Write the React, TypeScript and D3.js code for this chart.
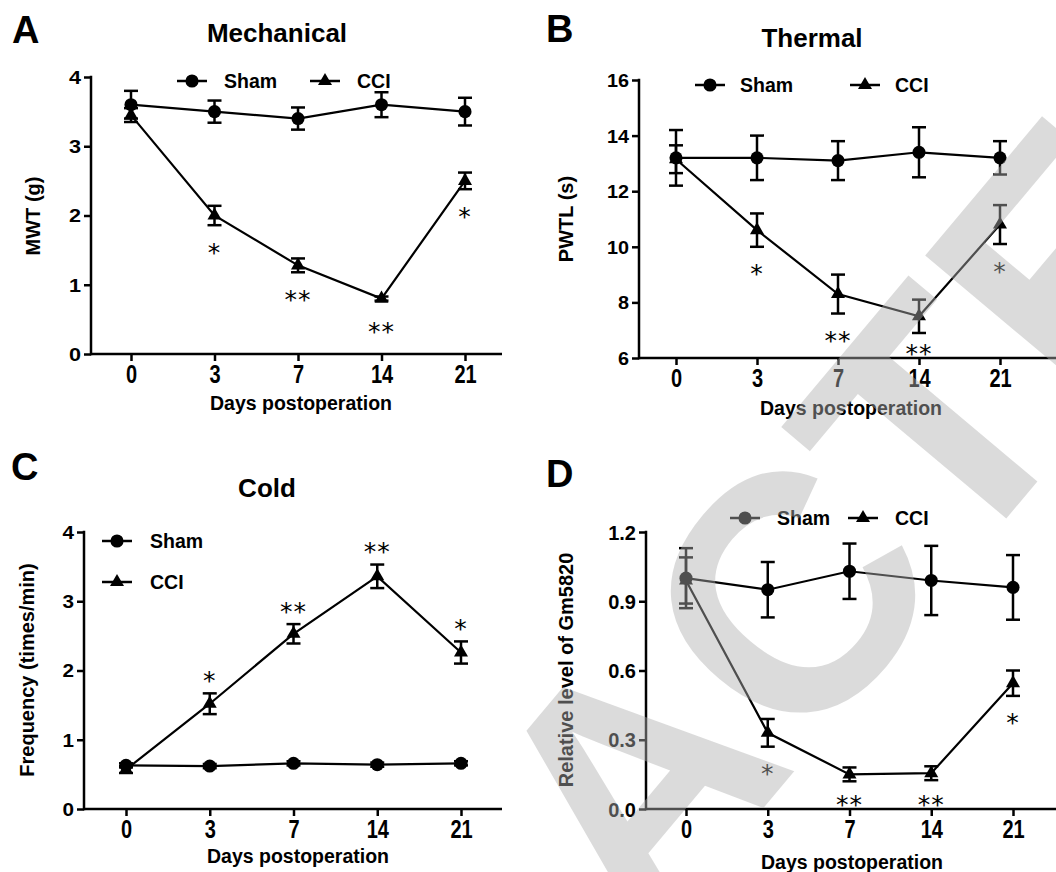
import React, { useEffect, useRef } from 'react';
import * as d3 from 'd3';

// ---------- data ----------
const days = ['0', '3', '7', '14', '21'];

// A: Mechanical (MWT, g)
const mechShamMean = [3.6, 3.5, 3.4, 3.6, 3.5];
const mechShamSem = [0.2, 0.16, 0.16, 0.18, 0.2];
const mechCciMean = [3.45, 2.0, 1.28, 0.8, 2.5];
const mechCciSem = [0.1, 0.14, 0.1, 0.03, 0.12];
const mechStars = ['', '*', '**', '**', '*'];
const mechTicks = [0, 1, 2, 3, 4];

// B: Thermal (PWTL, s)
const thermShamMean = [13.2, 13.2, 13.1, 13.4, 13.2];
const thermShamSem = [1.0, 0.8, 0.7, 0.9, 0.6];
const thermCciMean = [13.15, 10.6, 8.3, 7.5, 10.8];
const thermCciSem = [0.5, 0.6, 0.7, 0.6, 0.7];
const thermStars = ['', '*', '**', '**', '*'];
const thermTicks = [6, 8, 10, 12, 14, 16];

// C: Cold (Frequency, times/min)
const coldShamMean = [0.63, 0.62, 0.66, 0.64, 0.66];
const coldShamSem = [0.03, 0.03, 0.03, 0.03, 0.03];
const coldCciMean = [0.57, 1.52, 2.53, 3.36, 2.26];
const coldCciSem = [0.05, 0.15, 0.14, 0.17, 0.16];
const coldStars = ['', '*', '**', '**', '*'];
const coldTicks = [0, 1, 2, 3, 4];

// D: Relative level of Gm5820
const gmShamMean = [1.0, 0.95, 1.03, 0.99, 0.96];
const gmShamSem = [0.13, 0.12, 0.12, 0.15, 0.14];
const gmCciMean = [0.99, 0.33, 0.15, 0.155, 0.545];
const gmCciSem = [0.1, 0.06, 0.03, 0.03, 0.055];
const gmStars = ['', '*', '**', '**', '*'];
const gmTicks = [0, 0.3, 0.6, 0.9, 1.2];

const seriesNames = ['Sham', 'CCI'];
const watermarkText = 'RETRACTED';

const FONT = '"Liberation Sans", Arial, Helvetica, sans-serif';
const STAR_FONT = '"DejaVu Sans", sans-serif';

type Panel = {
  letter: string; letterX: number; letterY: number;
  title?: string; titleX?: number; titleY?: number;
  yLabel: string; yLabelX: number; yLabelY: number;
  xLabelX: number; xLabelY: number;
  x0: number; xEnd: number; xFirst: number; xLast: number;
  yTop: number; yBottom: number; yDomain: [number, number];
  ticks: number[]; fmt: (d: number) => string; yTickFont: number; yTickStretch: number;
  sham: number[]; shamSem: number[]; cci: number[]; cciSem: number[]; stars: string[];
  starsAbove: boolean;
  legend: { vertical: boolean; x: number; y: number; x2?: number; gapText: number; rowGap?: number };
};

function drawPanel(svg: d3.Selection<SVGSVGElement, unknown, null, undefined>, p: Panel) {
  const g = svg.append('g');
  const x = d3.scalePoint<string>().domain(days).range([p.xFirst, p.xLast]);
  const y = d3.scaleLinear().domain(p.yDomain).range([p.yBottom, p.yTop]);

  // y axis
  const yAx = g.append('g').attr('transform', `translate(${p.x0},0)`)
    .call(d3.axisLeft(y).tickValues(p.ticks).tickSize(7).tickPadding(3).tickSizeOuter(0).tickFormat(p.fmt as any));
  yAx.select('.domain').remove();
  yAx.selectAll('line').attr('stroke', '#000').attr('stroke-width', 2.5);
  yAx.selectAll('text')
    .attr('x', null).attr('dy', '0.36em')
    .attr('transform', `translate(-10,0) scale(${p.yTickStretch},1)`)
    .attr('font-family', FONT).attr('font-size', p.yTickFont).attr('font-weight', 'bold').attr('fill', '#000');
  g.append('line').attr('x1', p.x0).attr('x2', p.x0).attr('y1', p.yTop - 1.2).attr('y2', p.yBottom + 1.2)
    .attr('stroke', '#000').attr('stroke-width', 2.5);

  // x axis
  const xAx = g.append('g').attr('transform', `translate(0,${p.yBottom})`)
    .call(d3.axisBottom(x).tickSize(7).tickPadding(4).tickSizeOuter(0));
  xAx.select('.domain').remove();
  xAx.selectAll('line').attr('stroke', '#000').attr('stroke-width', 2.5);
  xAx.selectAll('text')
    .attr('y', null).attr('dy', null)
    .attr('transform', 'translate(0,29) scale(1,1.25)')
    .attr('font-family', FONT).attr('font-size', 20).attr('font-weight', 'bold').attr('fill', '#000');
  g.append('line').attr('x1', p.x0).attr('x2', p.xEnd).attr('y1', p.yBottom).attr('y2', p.yBottom)
    .attr('stroke', '#000').attr('stroke-width', 2.5);

  // labels
  g.append('text').attr('x', p.letterX).attr('y', p.letterY).text(p.letter)
    .attr('font-family', FONT).attr('font-weight', 'bold').attr('font-size', 38);
  if (p.title) {
    g.append('text').attr('x', p.titleX!).attr('y', p.titleY!).text(p.title).attr('text-anchor', 'middle')
      .attr('font-family', FONT).attr('font-weight', 'bold').attr('font-size', 26);
  }
  g.append('text').attr('transform', `translate(${p.yLabelX},${p.yLabelY}) rotate(-90)`).attr('text-anchor', 'middle')
    .text(p.yLabel).attr('font-family', FONT).attr('font-weight', 'bold').attr('font-size', 20);
  g.append('text').attr('x', p.xLabelX).attr('y', p.xLabelY).attr('text-anchor', 'middle')
    .text('Days postoperation').attr('font-family', FONT).attr('font-weight', 'bold').attr('font-size', 19.5);

  const line = d3.line<number>().x((_, i) => x(days[i])!).y((d) => y(d));
  const circle = d3.symbol().type(d3.symbolCircle).size(135)();
  const tri = d3.symbol().type(d3.symbolTriangle).size(85)();

  const series = [
    { mean: p.sham, sem: p.shamSem, sym: circle },
    { mean: p.cci, sem: p.cciSem, sym: tri },
  ];
  series.forEach((s) => {
    g.append('path').attr('d', line(s.mean)!).attr('fill', 'none').attr('stroke', '#000').attr('stroke-width', 2.2);
  });
  series.forEach((s) => {
    s.mean.forEach((m, i) => {
      const cx = x(days[i])!;
      const yHi = y(m + s.sem[i]);
      const yLo = y(m - s.sem[i]);
      g.append('line').attr('x1', cx).attr('x2', cx).attr('y1', yHi).attr('y2', yLo).attr('stroke', '#000').attr('stroke-width', 2.5);
      [yHi, yLo].forEach((yy) => {
        g.append('line').attr('x1', cx - 7).attr('x2', cx + 7).attr('y1', yy).attr('y2', yy).attr('stroke', '#000').attr('stroke-width', 2.5);
      });
      g.append('path').attr('d', s.sym).attr('transform', `translate(${cx},${y(m)})`).attr('fill', '#000');
    });
  });

  // significance stars
  const SF = 25;
  p.stars.forEach((st, i) => {
    if (!st) return;
    const cx = x(days[i])!;
    const m = p.cci[i];
    let cy: number;
    if (p.starsAbove) {
      cy = y(m + p.cciSem[i]) - 19;
    } else {
      const bottom = Math.max(y(m - p.cciSem[i]), y(m) + 6);
      cy = Math.min(bottom + 21, p.yBottom - 11);
    }
    g.append('text').attr('x', cx).attr('y', cy + 0.58 * SF).attr('text-anchor', 'middle')
      .attr('font-family', STAR_FONT).attr('font-size', SF).attr('letter-spacing', 1).text(st);
  });

  // legend
  const L = p.legend;
  const items = [
    { name: seriesNames[0], sym: circle },
    { name: seriesNames[1], sym: tri },
  ];
  items.forEach((it, k) => {
    const lx = L.vertical ? L.x : (k === 0 ? L.x : L.x2!);
    const ly = L.vertical ? L.y + k * (L.rowGap || 0) : L.y;
    g.append('line').attr('x1', lx).attr('x2', lx + 30).attr('y1', ly).attr('y2', ly).attr('stroke', '#000').attr('stroke-width', 2.5);
    g.append('path').attr('d', it.sym).attr('transform', `translate(${lx + 15},${ly})`).attr('fill', '#000');
    g.append('text').attr('x', lx + 30 + L.gapText).attr('y', ly + 7).text(it.name)
      .attr('font-family', FONT).attr('font-weight', 'bold').attr('font-size', 19.5);
  });
}

export default function App() {
  const ref = useRef<SVGSVGElement>(null);
  useEffect(() => {
    const svg = d3.select(ref.current!);
    svg.selectAll('*').remove();
    svg.append('rect').attr('width', 1056).attr('height', 872).attr('fill', '#fff');

    const intFmt = (d: number) => d3.format('d')(d);
    const decFmt = (d: number) => d3.format('.1f')(d);

    const panels: Panel[] = [
      {
        letter: 'A', letterX: 12, letterY: 43, title: 'Mechanical', titleX: 277, titleY: 42,
        yLabel: 'MWT (g)', yLabelX: 40, yLabelY: 216, xLabelX: 301, xLabelY: 410,
        x0: 91, xEnd: 502, xFirst: 131, xLast: 465, yTop: 77, yBottom: 354, yDomain: [0, 4],
        ticks: mechTicks, fmt: intFmt, yTickFont: 18, yTickStretch: 1.2,
        sham: mechShamMean, shamSem: mechShamSem, cci: mechCciMean, cciSem: mechCciSem, stars: mechStars,
        starsAbove: false,
        legend: { vertical: false, x: 177, x2: 310, y: 81, gapText: 17 },
      },
      {
        letter: 'B', letterX: 546, letterY: 42, title: 'Thermal', titleX: 812, titleY: 47,
        yLabel: 'PWTL (s)', yLabelX: 573, yLabelY: 219, xLabelX: 851, xLabelY: 415,
        x0: 639, xEnd: 1056, xFirst: 676, xLast: 1000, yTop: 80, yBottom: 358, yDomain: [6, 16],
        ticks: thermTicks, fmt: intFmt, yTickFont: 18, yTickStretch: 1.1,
        sham: thermShamMean, shamSem: thermShamSem, cci: thermCciMean, cciSem: thermCciSem, stars: thermStars,
        starsAbove: false,
        legend: { vertical: false, x: 695, x2: 850, y: 85, gapText: 15 },
      },
      {
        letter: 'C', letterX: 11, letterY: 480, title: 'Cold', titleX: 267, titleY: 497,
        yLabel: 'Frequency (times/min)', yLabelX: 34, yLabelY: 670, xLabelX: 298, xLabelY: 863,
        x0: 84, xEnd: 502, xFirst: 126, xLast: 461, yTop: 532, yBottom: 809, yDomain: [0, 4],
        ticks: coldTicks, fmt: intFmt, yTickFont: 18, yTickStretch: 1.15,
        sham: coldShamMean, shamSem: coldShamSem, cci: coldCciMean, cciSem: coldCciSem, stars: coldStars,
        starsAbove: true,
        legend: { vertical: true, x: 102, y: 541, gapText: 18, rowGap: 41 },
      },
      {
        letter: 'D', letterX: 546, letterY: 487,
        yLabel: 'Relative level of Gm5820', yLabelX: 573, yLabelY: 670, xLabelX: 852, xLabelY: 869,
        x0: 646, xEnd: 1056, xFirst: 686, xLast: 1013, yTop: 532, yBottom: 809, yDomain: [0, 1.2],
        ticks: gmTicks, fmt: decFmt, yTickFont: 20, yTickStretch: 1.0,
        sham: gmShamMean, shamSem: gmShamSem, cci: gmCciMean, cciSem: gmCciSem, stars: gmStars,
        starsAbove: false,
        legend: { vertical: false, x: 730, x2: 848, y: 518, gapText: 17 },
      },
    ];
    panels.forEach((p) => drawPanel(svg, p));

    // translucent diagonal watermark overlay
    svg.append('g').attr('transform', 'translate(56,1651) rotate(-50)')
      .append('text').attr('x', 0).attr('y', 0).attr('dx', '-110 0 0 0 110').text(watermarkText)
      .attr('font-family', FONT).attr('font-weight', 'bold').attr('font-size', 336)
      .attr('fill', '#b0b0b0').attr('fill-opacity', 0.45);
  }, []);

  return (
    <svg ref={ref} width={1056} height={872}
      style={{ position: 'absolute', left: 0, top: 0, display: 'block' }} />
  );
}
